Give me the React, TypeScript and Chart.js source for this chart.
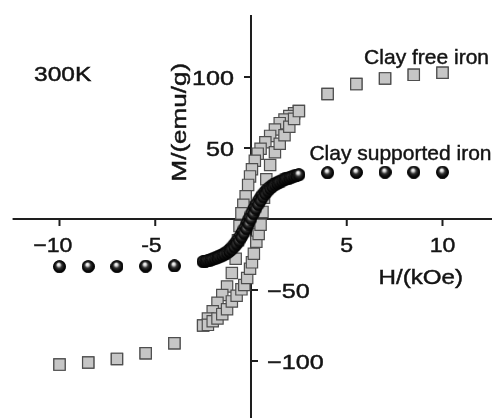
import React, { useEffect, useRef } from "react";
import { Chart, registerables } from "chart.js";

Chart.register(...registerables);

// ---- scale ranges (value space) ----
const X_MIN = -13.107;
const X_MAX = 12.585;
const Y_MIN = -140.1;
const Y_MAX = 154.2;
const AXIS_H_RANGE = [-12.45, 12.6];
const AXIS_V_RANGE = [-140.1, 143.6];

// ---- ticks ----
const X_TICKS = [-10, -5, 5, 10];
const X_TICK_LABELS = ["\u221210", "-5", "5", "10"];
const Y_TICKS = [100, 50, -50, -100];
const Y_TICK_LABELS = ["100", "50", "\u221250", "\u2212100"];

// ---- Clay free iron (squares) ----
const freeDescH = [10, 8.5, 7, 5.5, 4, 2.5, 2.25, 2.0, 1.75, 1.5, 1.25, 1.0, 0.75, 0.5, 0.35, 0.2, 0.05, -0.05, -0.15, -0.28, -0.4, -0.5, -0.6, -0.68, -0.8, -1.0, -1.25, -1.5, -1.75, -2.0, -2.25, -2.5, -4, -5.5, -7, -8.5, -10];
const freeDescM = [103, 101.5, 99, 95, 88, 76, 74.5, 72.5, 70, 67.5, 63, 58.5, 54, 49.5, 46, 41, 35, 30, 24, 16, 10, 4, -5, -15, -28, -38, -47.5, -53.5, -59, -65, -70, -75, -87.5, -94.5, -98.5, -101, -102.5];
const freeAscH = [-10, -8.5, -7, -5.5, -4, -2.5, -2.25, -2.0, -1.75, -1.5, -1.25, -1.0, -0.75, -0.5, -0.35, -0.2, -0.05, 0.05, 0.15, 0.28, 0.4, 0.5, 0.6, 0.68, 0.8, 1.0, 1.25, 1.5, 1.75, 2.0, 2.25, 2.5, 4, 5.5, 7, 8.5, 10];
const freeAscM = [-102.5, -101, -98.5, -94.5, -87.5, -75, -74.5, -72, -70, -67, -63.5, -58, -54, -49.5, -46.5, -41.5, -35, -30.5, -24.5, -16, -10.5, -4, 5, 15, 28, 38, 47, 53, 59, 65, 70.5, 76, 88, 95, 99, 101.5, 103];

// ---- Clay supported iron (spheres) ----
const supDescH = [10, 8.5, 7, 5.5, 4, 2.5, 2.375, 2.25, 2.125, 2.0, 1.875, 1.75, 1.625, 1.5, 1.375, 1.25, 1.125, 1.0, 0.875, 0.75, 0.625, 0.5, 0.375, 0.25, 0.125, 0, -0.125, -0.25, -0.375, -0.5, -0.625, -0.75, -0.875, -1.0, -1.125, -1.25, -1.375, -1.5, -1.625, -1.75, -1.875, -2.0, -2.125, -2.25, -2.375, -2.5, -4, -5.5, -7, -8.5, -10];
const supDescM = [33, 33, 33, 32.8, 32.6, 31.2, 30.8, 30.4, 29.9, 29.4, 28.8, 28.2, 27.5, 26.7, 25.9, 25.0, 24.0, 22.8, 21.4, 19.7, 17.7, 15.5, 12.9, 10.1, 7.0, 3.6, 0, -3.6, -7.0, -10.1, -12.9, -15.5, -17.7, -19.7, -21.4, -22.8, -24.0, -25.0, -25.9, -26.7, -27.4, -28.0, -28.6, -29.1, -29.6, -30.0, -33, -33.2, -33.4, -33.4, -33.5];
const supAscH = [-10, -8.5, -7, -5.5, -4, -2.5, -2.375, -2.25, -2.125, -2.0, -1.875, -1.75, -1.625, -1.5, -1.375, -1.25, -1.125, -1.0, -0.875, -0.75, -0.625, -0.5, -0.375, -0.25, -0.125, 0, 0.125, 0.25, 0.375, 0.5, 0.625, 0.75, 0.875, 1.0, 1.125, 1.25, 1.375, 1.5, 1.625, 1.75, 1.875, 2.0, 2.125, 2.25, 2.375, 2.5, 4, 5.5, 7, 8.5, 10];
const supAscM = [-33.5, -33.4, -33.4, -33.2, -33, -30.0, -29.8, -29.4, -29.0, -28.5, -28.0, -27.4, -26.7, -25.9, -25.0, -24.0, -22.8, -21.4, -19.7, -17.7, -15.5, -12.9, -10.1, -7.0, -3.6, 0, 3.6, 7.0, 10.1, 12.9, 15.5, 17.7, 19.7, 21.4, 22.8, 24.0, 25.0, 25.9, 26.7, 27.5, 28.2, 28.8, 29.4, 29.9, 30.4, 31.2, 32.6, 32.8, 33, 33, 33];

const FONT = '21px "Liberation Sans", Arial, sans-serif';
const TEXT_COLOR = "#141414";

function toPoints(h: number[], m: number[]) {
  return h.map((x, i) => ({ x, y: m[i] }));
}

function makeSphere(): HTMLCanvasElement {
  const size = 13;
  const c = document.createElement("canvas");
  c.width = size;
  c.height = size;
  const g = c.getContext("2d")!;
  const r = size / 2;
  const grad = g.createRadialGradient(r - 1.0, r - 2.4, 0.2, r, r, r);
  grad.addColorStop(0, "#ffffff");
  grad.addColorStop(0.2, "#d8d8d8");
  grad.addColorStop(0.45, "#333333");
  grad.addColorStop(0.75, "#0b0b0b");
  grad.addColorStop(1, "#000000");
  g.fillStyle = grad;
  g.beginPath();
  g.arc(r, r, r - 0.2, 0, Math.PI * 2);
  g.fill();
  return c;
}

function stretchText(ctx: CanvasRenderingContext2D, s: string, x: number, y: number, align: CanvasTextAlign, sx: number) {
  ctx.save();
  ctx.translate(x, y);
  ctx.scale(sx, 1);
  ctx.textAlign = align;
  ctx.textBaseline = "alphabetic";
  ctx.lineWidth = 0.45;
  ctx.strokeStyle = TEXT_COLOR;
  ctx.fillText(s, 0, 0);
  ctx.strokeText(s, 0, 0);
  ctx.restore();
}

const originAxesPlugin = {
  id: "originAxes",
  beforeDatasetsDraw(chart: any) {
    const ctx: CanvasRenderingContext2D = chart.ctx;
    const xs = chart.scales.x;
    const ys = chart.scales.y;
    const x0 = xs.getPixelForValue(0);
    const y0 = ys.getPixelForValue(0);
    ctx.save();
    ctx.strokeStyle = "#1e1e1e";
    ctx.lineWidth = 2;
    ctx.beginPath();
    ctx.moveTo(xs.getPixelForValue(AXIS_H_RANGE[0]), y0);
    ctx.lineTo(xs.getPixelForValue(AXIS_H_RANGE[1]), y0);
    ctx.moveTo(x0, ys.getPixelForValue(AXIS_V_RANGE[1]));
    ctx.lineTo(x0, ys.getPixelForValue(AXIS_V_RANGE[0]));
    // x ticks (downward)
    X_TICKS.forEach((v) => {
      const px = xs.getPixelForValue(v);
      ctx.moveTo(px, y0);
      ctx.lineTo(px, y0 + 7);
    });
    // y ticks: left for positive, right for negative
    Y_TICKS.forEach((v) => {
      const py = ys.getPixelForValue(v);
      ctx.moveTo(x0, py);
      ctx.lineTo(v > 0 ? x0 - 7 : x0 + 7, py);
    });
    ctx.stroke();
    ctx.restore();
  },
  afterDatasetsDraw(chart: any) {
    const ctx: CanvasRenderingContext2D = chart.ctx;
    const xs = chart.scales.x;
    const ys = chart.scales.y;
    const x0 = xs.getPixelForValue(0);
    const y0 = ys.getPixelForValue(0);
    ctx.save();
    ctx.font = FONT;
    ctx.fillStyle = TEXT_COLOR;
    // x tick labels: digits centred on tick, sign hangs left
    X_TICKS.forEach((v, i) => {
      const lab = X_TICK_LABELS[i];
      const sx = 1.1;
      const digits = lab.replace(/[\u2212-]/, "");
      const w = ctx.measureText(digits).width * sx;
      const px = xs.getPixelForValue(v);
      stretchText(ctx, lab, px + w / 2, y0 + 33, "right", sx);
    });
    // y tick labels
    Y_TICKS.forEach((v, i) => {
      const py = ys.getPixelForValue(v);
      if (v > 0) {
        stretchText(ctx, Y_TICK_LABELS[i], x0 - 17, py + 8, "right", 1.2);
      } else {
        stretchText(ctx, Y_TICK_LABELS[i], x0 + 16, py + 8, "left", 1.2);
      }
    });
    // axis titles and annotations
    stretchText(ctx, "H/(kOe)", 378.5, 284, "left", 1.15);
    stretchText(ctx, "300K", 34, 80.5, "left", 1.17);
    stretchText(ctx, "Clay free iron", 489, 64, "right", 1.0);
    stretchText(ctx, "Clay supported iron", 491.5, 160, "right", 1.0);
    // rotated y title
    ctx.save();
    ctx.translate(186, 181.5);
    ctx.rotate(-Math.PI / 2);
    stretchText(ctx, "M/(emu/g)", 0, 0, "left", 1.24);
    ctx.restore();
    ctx.restore();
  },
};

export default function App() {
  const canvasRef = useRef<HTMLCanvasElement | null>(null);

  useEffect(() => {
    if (!canvasRef.current) return;
    const sphere = makeSphere();
    const chart = new Chart(canvasRef.current, {
      type: "scatter",
      data: {
        datasets: [
          {
            label: "Clay supported iron",
            data: [...toPoints(supDescH, supDescM), ...toPoints(supAscH, supAscM)],
            pointStyle: sphere as any,
            pointRadius: 6,
            showLine: false,
            backgroundColor: "#000",
            borderColor: "#000",
          },
          {
            label: "Clay free iron",
            data: [...toPoints(freeDescH, freeDescM), ...toPoints(freeAscH, freeAscM)],
            pointStyle: "rect",
            pointRadius: 8,
            pointBorderWidth: 1.2,
            backgroundColor: "#c6c6c6",
            borderColor: "#4e4e4e",
            showLine: false,
          },
        ],
      },
      options: {
        responsive: false,
        animation: false,
        events: [],
        layout: { padding: 0, autoPadding: false },
        plugins: {
          legend: { display: false },
          tooltip: { enabled: false },
        },
        scales: {
          x: { type: "linear", min: X_MIN, max: X_MAX, display: false },
          y: { type: "linear", min: Y_MIN, max: Y_MAX, display: false },
        },
      },
      plugins: [originAxesPlugin],
    });
    return () => chart.destroy();
  }, []);

  return (
    <div style={{ position: "absolute", left: 0, top: 0, width: 492, height: 418, background: "#ffffff" }}>
      <canvas ref={canvasRef} width={492} height={418} style={{ display: "block", width: 492, height: 418 }} />
    </div>
  );
}
